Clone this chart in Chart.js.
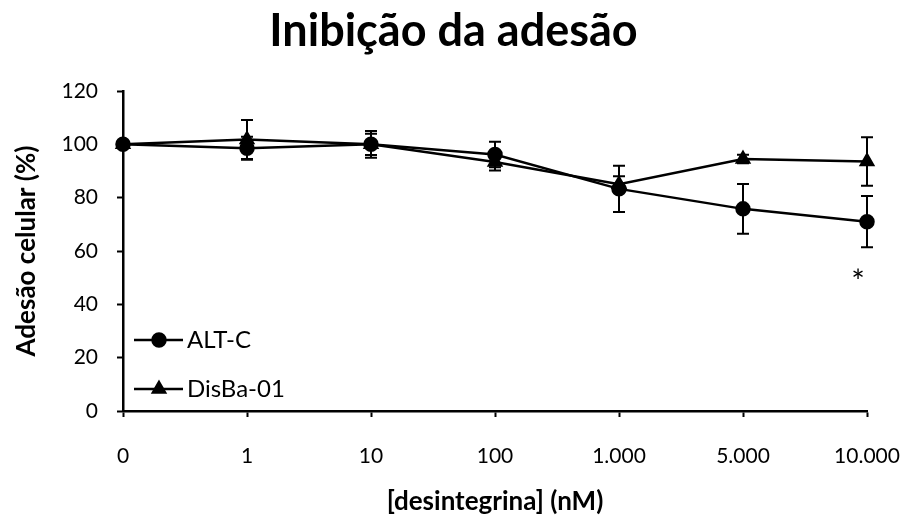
<!DOCTYPE html>
<html><head><meta charset="utf-8">
<script src="https://cdn.jsdelivr.net/npm/chart.js@4.4.0/dist/chart.umd.min.js"></script>
<style>html,body{margin:0;padding:0;background:#fff}#wrap{width:907px;height:519px;position:relative}</style>
</head><body><div id="wrap"><canvas id="c"></canvas></div>
<script>
const categories = ['0', '1', '10', '100', '1.000', '5.000', '10.000'];
const altcValues = [100, 98.5, 100, 96.2, 83.3, 75.8, 71.0];
const altcErrors = [0, 4.3, 5.0, 4.8, 8.7, 9.3, 9.6];
const disbaValues = [100, 101.8, 100, 93.4, 85.0, 94.5, 93.6];
const disbaErrors = [0, 7.3, 4.0, 3.2, 3.0, 1.6, 9.1];
const yTickValues = [0, 20, 40, 60, 80, 100, 120];
const significanceMarks = [null, null, null, null, null, null, '*'];
const significanceLevel = [null, null, null, null, null, null, 51];

const FONT = 'Lato, "Open Sans", sans-serif';

const errorBars = {
  id: 'errorBars',
  afterDatasetsDraw(chart) {
    const ctx = chart.ctx, ys = chart.scales.y;
    chart.data.datasets.forEach((ds, i) => {
      const meta = chart.getDatasetMeta(i);
      (ds.errors || []).forEach((e, j) => {
        if (!e) return;
        const pt = meta.data[j];
        const x = pt.x;
        const top = ys.getPixelForValue(ds.data[j] + e);
        const bot = ys.getPixelForValue(ds.data[j] - e);
        ctx.save();
        ctx.strokeStyle = '#000';
        ctx.lineWidth = 2;
        ctx.beginPath();
        ctx.moveTo(x, top); ctx.lineTo(x, bot);
        ctx.moveTo(x - 6, top); ctx.lineTo(x + 6, top);
        ctx.moveTo(x - 6, bot); ctx.lineTo(x + 6, bot);
        ctx.stroke();
        ctx.restore();
      });
    });
    // significance asterisks
    const xs = chart.scales.x;
    ctx.save();
    ctx.fillStyle = '#000';
    ctx.font = '32px ' + FONT;
    ctx.textAlign = 'center';
    ctx.textBaseline = 'middle';
    significanceMarks.forEach((m, j) => {
      if (!m) return;
      ctx.fillText(m, xs.getPixelForValue(j) - 9, ys.getPixelForValue(significanceLevel[j]) + 8);
    });
    ctx.restore();
  }
};

const insideLegend = {
  id: 'insideLegend',
  afterDraw(chart) {
    const ctx = chart.ctx, a = chart.chartArea;
    const rows = [a.bottom - 71, a.bottom - 22];
    chart.data.datasets.forEach((ds, i) => {
      const y = rows[i];
      const x0 = a.left + 11, x1 = a.left + 60, xm = a.left + 36;
      ctx.save();
      ctx.strokeStyle = '#000';
      ctx.lineWidth = ds.borderWidth;
      ctx.beginPath(); ctx.moveTo(x0, y); ctx.lineTo(x1, y); ctx.stroke();
      Chart.helpers.drawPoint(ctx, {pointStyle: ds.pointStyle, radius: ds.pointRadius, borderWidth: 1}, xm, y);
      ctx.fillStyle = '#000';
      ctx.fill();
      ctx.font = '24px ' + FONT;
      ctx.textAlign = 'left';
      ctx.textBaseline = 'middle';
      ctx.fillText(ds.label, a.left + 64, y);
      ctx.restore();
    });
  }
};

new Chart(document.getElementById('c'), {
  type: 'line',
  data: {
    labels: categories,
    datasets: [
      {label: 'ALT-C', data: altcValues, errors: altcErrors, borderColor: '#000', backgroundColor: '#000',
       borderWidth: 2.5, pointStyle: 'circle', pointRadius: 6.5, pointBackgroundColor: '#000', pointBorderColor: '#000',
       tension: 0, clip: false},
      {label: 'DisBa-01', data: disbaValues, errors: disbaErrors, borderColor: '#000', backgroundColor: '#000',
       borderWidth: 2.5, pointStyle: 'triangle', pointRadius: 7, pointBackgroundColor: '#000', pointBorderColor: '#000',
       tension: 0, clip: false}
    ]
  },
  options: {
    responsive: true,
    maintainAspectRatio: false,
    animation: false,
    layout: {padding: {left: 0, right: 0, top: 0, bottom: 0}},
    plugins: {
      legend: {display: false},
      tooltip: {enabled: false},
      title: {display: true, text: 'Inibição da adesão', color: '#000',
        font: {family: FONT, size: 45, weight: 'bold'}, padding: {top: 4, bottom: 33}}
    },
    scales: {
      x: {
        type: 'category', offset: false,
        ticks: {color: '#000', font: {family: FONT, size: 21}, padding: 27, maxRotation: 0, autoSkip: false},
        grid: {drawOnChartArea: false, drawTicks: true, tickLength: 6, tickColor: '#000', tickWidth: 2},
        border: {color: '#000', width: 2.5},
        title: {display: true, text: '[desintegrina] (nM)', color: '#000',
          font: {family: FONT, size: 26, weight: 'bold'}, padding: {top: 0, bottom: 2}},
        afterFit(s) { s.height = 108; s.paddingLeft = 0; s.paddingRight = 40; }
      },
      y: {
        min: 0, max: 120,
        afterBuildTicks(s) { s.ticks = yTickValues.map(v => ({value: v})); },
        ticks: {color: '#000', font: {family: FONT, size: 21}, padding: 19},
        grid: {drawOnChartArea: false, drawTicks: true, tickLength: 6, tickColor: '#000', tickWidth: 2},
        border: {color: '#000', width: 2.5},
        title: {display: true, text: 'Adesão celular (%)', color: '#000',
          font: {family: FONT, size: 26, weight: 'bold'}, padding: {top: 11, bottom: 0}},
        afterFit(s) { s.width = 123; }
      }
    }
  },
  plugins: [errorBars, insideLegend]
});
</script>
</body></html>
